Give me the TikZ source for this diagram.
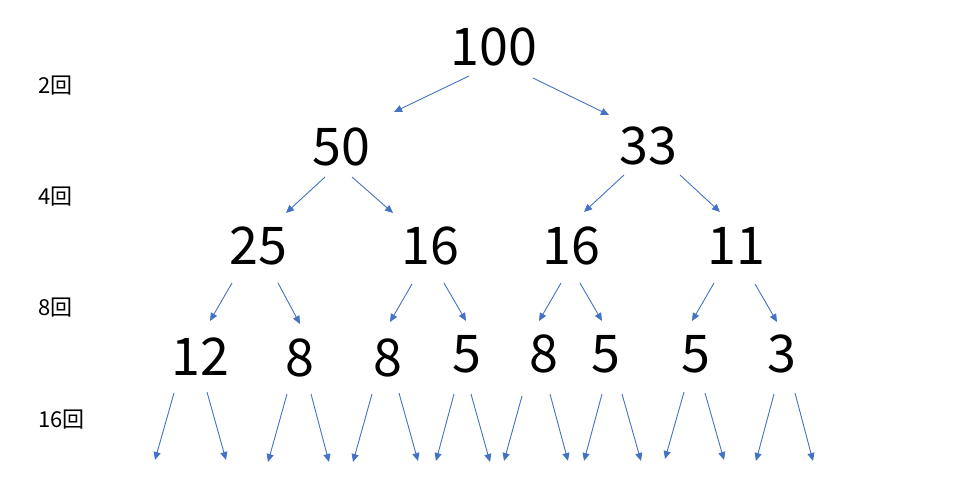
\documentclass[tikz,border=0pt]{standalone}
\usepackage{fontspec}
\newfontfamily\jpfont{Noto Sans CJK JP}
\usetikzlibrary{arrows.meta}
\definecolor{arrowblue}{HTML}{4472C4}

\begin{document}
\begin{tikzpicture}[x=1pt,y=-1pt]

\tikzset{num/.style = {anchor=base, inner sep=0pt, font=\jpfont\fontsize{52}{60}\selectfont}}
\tikzset{cnt/.style = {anchor=base west, inner sep=0pt, font=\jpfont\fontsize{22}{26}\selectfont}}
\tikzset{arr/.style = {draw=arrowblue, line width=0.9pt, -{Triangle[length=8pt,width=7pt]}}}

\useasboundingbox (0,0) rectangle (966,498);

% counts
\node[cnt] (c2) at (38,93) {2回};
\node[cnt] (c4) at (38,204) {4回};
\node[cnt] (c8) at (38,315) {8回};
\node[cnt] (c16) at (38,427) {16回};

% tree
\node[num] (n100) at (494,65) {100};

\node[num] (n50) at (341,165) {50};
\node[num] (n33) at (648,164) {33};

\node[num] (n25) at (258,264) {25};
\node[num] (n16a) at (430,264) {16};
\node[num] (n16b) at (571,264) {16};
\node[num] (n11) at (736,264) {11};

\node[num] (n12) at (200,375) {12};
\node[num] (n8a) at (300,376) {8};
\node[num] (n8b) at (388,376) {8};
\node[num] (n5a) at (467,372) {5};
\node[num] (n8c) at (544,372) {8};
\node[num] (n5b) at (606,372) {5};
\node[num] (n5c) at (696,372) {5};
\node[num] (n3) at (782,372) {3};

% level 1
\draw[arr] ([shift={(-25,11)}]n100.base) -- ([shift={(53,-53)}]n50.base);
\draw[arr] ([shift={(39,13)}]n100.base) -- ([shift={(-39,-49)}]n33.base);

% level 2
\draw[arr] ([shift={(-16,12)}]n50.base) -- ([shift={(28,-51)}]n25.base);
\draw[arr] ([shift={(11,12)}]n50.base) -- ([shift={(-37,-51)}]n16a.base);
\draw[arr] ([shift={(-24,11)}]n33.base) -- ([shift={(13,-52)}]n16b.base);
\draw[arr] ([shift={(32,11)}]n33.base) -- ([shift={(-16,-52)}]n11.base);

% level 3
\draw[arr] ([shift={(-26,19)}]n25.base) -- ([shift={(10,-54)}]n12.base);
\draw[arr] ([shift={(20,19)}]n25.base) -- ([shift={(0,-52)}]n8a.base);
\draw[arr] ([shift={(-18,20)}]n16a.base) -- ([shift={(2,-54)}]n8b.base);
\draw[arr] ([shift={(14,19)}]n16a.base) -- ([shift={(-1,-51)}]n5a.base);
\draw[arr] ([shift={(-10,19)}]n16b.base) -- ([shift={(-5,-51)}]n8c.base);
\draw[arr] ([shift={(9,19)}]n16b.base) -- ([shift={(-4,-51)}]n5b.base);
\draw[arr] ([shift={(-22,19)}]n11.base) -- ([shift={(-4,-51)}]n5c.base);
\draw[arr] ([shift={(19,20)}]n11.base) -- ([shift={(-5,-50)}]n3.base);

% level 4 (open ends)
\coordinate (e1) at (155,460);
\coordinate (e2) at (226,460);
\coordinate (e3) at (268,462);
\coordinate (e4) at (329,462);
\coordinate (e5) at (353,462);
\coordinate (e6) at (418,461);
\coordinate (e7) at (436,461);
\coordinate (e8) at (490,462);
\coordinate (e9) at (504,461);
\coordinate (e10) at (568,461);
\coordinate (e11) at (584,461);
\coordinate (e12) at (641,461);
\coordinate (e13) at (665,459);
\coordinate (e14) at (724,460);
\coordinate (e15) at (756,461);
\coordinate (e16) at (813,461);

\draw[arr] ([shift={(-26,18)}]n12.base) -- (e1);
\draw[arr] ([shift={(7,17)}]n12.base) -- (e2);
\draw[arr] ([shift={(-13,18)}]n8a.base) -- (e3);
\draw[arr] ([shift={(11,18)}]n8a.base) -- (e4);
\draw[arr] ([shift={(-16,18)}]n8b.base) -- (e5);
\draw[arr] ([shift={(11,17)}]n8b.base) -- (e6);
\draw[arr] ([shift={(-13,22)}]n5a.base) -- (e7);
\draw[arr] ([shift={(4,22)}]n5a.base) -- (e8);
\draw[arr] ([shift={(-22,24)}]n8c.base) -- (e9);
\draw[arr] ([shift={(6,22)}]n8c.base) -- (e10);
\draw[arr] ([shift={(-4,22)}]n5b.base) -- (e11);
\draw[arr] ([shift={(16,22)}]n5b.base) -- (e12);
\draw[arr] ([shift={(-12,20)}]n5c.base) -- (e13);
\draw[arr] ([shift={(9,21)}]n5c.base) -- (e14);
\draw[arr] ([shift={(-8,22)}]n3.base) -- (e15);
\draw[arr] ([shift={(13,21)}]n3.base) -- (e16);

\end{tikzpicture}
\end{document}
